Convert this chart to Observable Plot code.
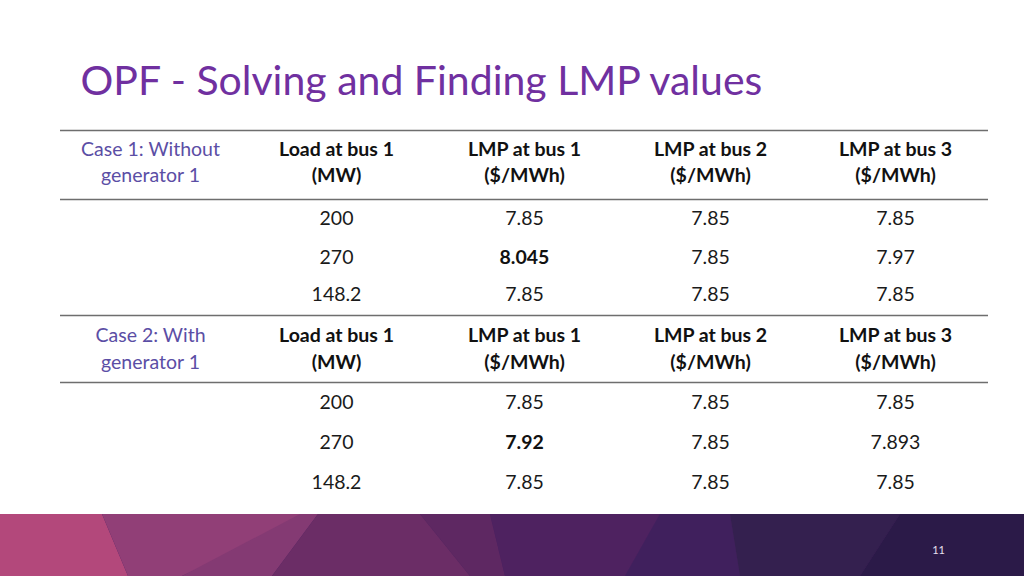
<!DOCTYPE html>
<html>
<head>
<meta charset="utf-8">
<script src="https://cdn.jsdelivr.net/npm/d3@7"></script>
<script src="https://cdn.jsdelivr.net/npm/@observablehq/plot@0.6"></script>
<style>
  html, body { margin: 0; padding: 0; background: #ffffff; }
  #chart svg { display: block; }
</style>
</head>
<body>
<div id="chart"></div>
<script>
// ---------- DATA ----------
const title = "OPF - Solving and Finding LMP values";
const pageNumber = "11";
const caseLabels = ["Case 1: Without\ngenerator 1", "Case 2: With\ngenerator 1"];
const headers = ["Load at bus 1\n(MW)", "LMP at bus 1\n($/MWh)", "LMP at bus 2\n($/MWh)", "LMP at bus 3\n($/MWh)"];
const loads = ["200", "270", "148.2"];
const case1Bus1 = ["7.85", "8.045", "7.85"];
const case1Bus2 = ["7.85", "7.85", "7.85"];
const case1Bus3 = ["7.85", "7.97", "7.85"];
const case2Bus1 = ["7.85", "7.92", "7.85"];
const case2Bus2 = ["7.85", "7.85", "7.85"];
const case2Bus3 = ["7.85", "7.893", "7.85"];
// highlighted (bold) cells: [case, row, column]
const boldCells = [[0, 1, 1], [1, 1, 1]];

// background band facets (colors of the decorative footer)
const facetColors = ["#B3487B", "#913F77", "#843A73", "#6B2D66", "#5E2862", "#4E2260", "#40205D", "#34204F", "#2B1A48"];

// ---------- LAYOUT ----------
const W = 1024, H = 576;
const colX = [150, 336, 524, 710, 895];
const ruleX1 = 60, ruleX2 = 988;
const caseBlocks = [
  {headerY: 160, rowsY: [218, 257, 294], ruleTop: 130, ruleMid: 199, lh: 1.37},
  {headerY: 346, rowsY: [402, 442, 482], ruleTop: 315, ruleMid: 382, lh: 1.42}
];
const facetGeom = [
  [0, 102, 0, 128], [102, 318, 128, 182], [300, 318, 182, 272], [318, 420, 272, 470],
  [420, 490, 470, 505], [490, 660, 505, 625], [660, 730, 625, 740], [730, 900, 740, 860], [900, 1024, 860, 1024]
];
const bandTop = 514;

// ---------- BUILD ----------
const caseData = [
  [loads, case1Bus1, case1Bus2, case1Bus3],
  [loads, case2Bus1, case2Bus2, case2Bus3]
];
const cells = [];
caseData.forEach((cols, c) => {
  cols.forEach((vals, j) => {
    vals.forEach((v, r) => {
      const bold = boldCells.some(b => b[0] === c && b[1] === r && b[2] === j);
      cells.push({x: colX[j + 1], y: caseBlocks[c].rowsY[r], text: v, bold});
    });
  });
});
const headerCells = [];
caseBlocks.forEach((b, c) => {
  headers.forEach((h, j) => headerCells.push({x: colX[j + 1], y: b.headerY, text: h, c}));
});
const caseCells = caseBlocks.map((b, c) => ({x: colX[0], y: b.headerY, text: caseLabels[c], c}));
const rules = [];
caseBlocks.forEach(b => { rules.push({y: b.ruleTop}); rules.push({y: b.ruleMid}); });

const facetPts = [];
facetGeom.forEach((g, i) => {
  facetPts.push({id: i, y: bandTop, x1: g[0], x2: g[1], color: facetColors[i]});
  facetPts.push({id: i, y: H, x1: g[2], x2: g[3], color: facetColors[i]});
});

const font = "Lato, 'Open Sans', sans-serif";
const fs = 19.5;

const chart = Plot.plot({
  width: W, height: H,
  margin: 0,
  style: {fontFamily: font, background: "#ffffff"},
  x: {domain: [0, W], range: [0, W], axis: null},
  y: {domain: [0, H], range: [0, H], axis: null},
  color: {type: "identity"},
  marks: [
    // footer band
    Plot.rect([{}], {x1: () => 0, x2: () => W, y1: () => bandTop, y2: () => H, fill: "#4A2260"}),
    Plot.areaX(facetPts, {y: "y", x1: "x1", x2: "x2", z: "id", fill: "color", curve: "linear"}),
    Plot.text([pageNumber], {x: () => 938, y: () => 550, text: d => d, fill: "#e8e0ee", fontSize: 11}),
    // title
    Plot.text([title], {x: () => 80, y: () => 81, text: d => d, textAnchor: "start", fill: "#7030A0", fontSize: 41}),
    // rules
    Plot.ruleY(rules, {y: "y", x1: ruleX1, x2: ruleX2, stroke: "#6e6e6e", strokeWidth: 1.5}),
    // case labels
    Plot.text(caseCells.filter(d => d.c === 0), {x: "x", y: "y", text: "text", lineHeight: caseBlocks[0].lh, fill: "#5B4EA5", fontSize: fs}),
    Plot.text(caseCells.filter(d => d.c === 1), {x: "x", y: "y", text: "text", lineHeight: caseBlocks[1].lh, fill: "#5B4EA5", fontSize: fs}),
    // headers
    Plot.text(headerCells.filter(d => d.c === 0), {x: "x", y: "y", text: "text", lineHeight: caseBlocks[0].lh, fill: "#111", fontSize: fs, fontWeight: "bold"}),
    Plot.text(headerCells.filter(d => d.c === 1), {x: "x", y: "y", text: "text", lineHeight: caseBlocks[1].lh, fill: "#111", fontSize: fs, fontWeight: "bold"}),
    // values
    Plot.text(cells.filter(d => !d.bold), {x: "x", y: "y", text: "text", fill: "#1a1a1a", fontSize: fs}),
    Plot.text(cells.filter(d => d.bold), {x: "x", y: "y", text: "text", fill: "#111", fontSize: fs, fontWeight: "bold"})
  ]
});
document.getElementById("chart").appendChild(chart);
</script>
</body>
</html>
